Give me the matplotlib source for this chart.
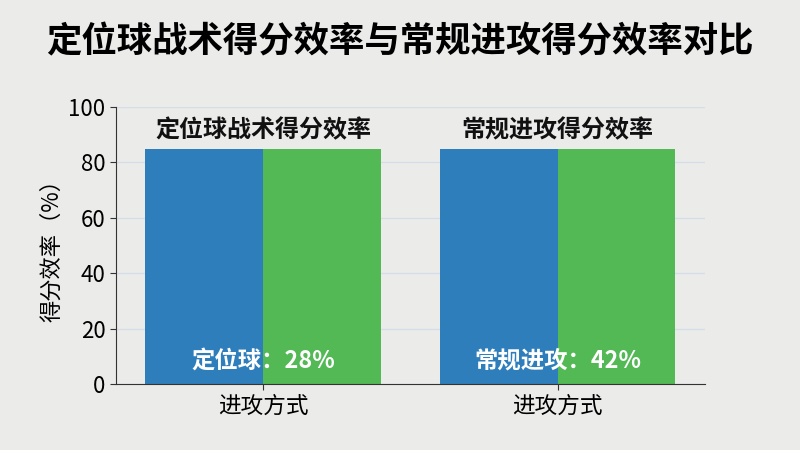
import matplotlib
matplotlib.use('Agg')
import matplotlib.pyplot as plt
import numpy as np

plt.rcParams['font.family'] = ['Noto Sans CJK SC', 'DejaVu Sans']

# data
groups = ['定位球战术得分效率', '常规进攻得分效率']
tick_labels = ['进攻方式', '进攻方式']
blue_values = [85, 85]
green_values = [85, 85]
inner_labels = ['定位球：28%', '常规进攻：42%']

bg = '#ebebea'
fig, ax = plt.subplots(figsize=(8, 4.5), dpi=100)
fig.patch.set_facecolor(bg)
ax.set_facecolor(bg)
fig.subplots_adjust(left=0.145, right=0.881, bottom=0.147, top=0.762)

x = np.arange(len(groups))
w = 0.4
ax.bar(x - w / 2, blue_values, w, color='#2f7ebc', zorder=2)
ax.bar(x + w / 2, green_values, w, color='#52b955', zorder=2)

for i in range(len(groups)):
    top = max(blue_values[i], green_values[i])
    ax.text(x[i], top + 2.3, groups[i], ha='center', va='bottom',
            fontsize=17.3, fontweight='bold', color='#111111')
    ax.text(x[i], 8.5, inner_labels[i], ha='center', va='center',
            fontsize=16.8, fontweight='bold', color='white', zorder=3)

ax.set_xlim(-0.5, 1.5)
ax.set_ylim(0, 100)
ax.set_yticks([0, 20, 40, 60, 80, 100])
ax.set_xticks(x)
ax.set_xticklabels(tick_labels, fontsize=16.3)
ax.tick_params(axis='y', labelsize=16, length=4, color='#333333')
ax.tick_params(axis='x', length=4, color='#333333')
ax.set_ylabel('得分效率（%）', fontsize=16, labelpad=4)

ax.grid(axis='y', color='#d5dde6', linewidth=1, zorder=0)
for s in ['top', 'right']:
    ax.spines[s].set_visible(False)
ax.spines['left'].set_color('#333333')
ax.spines['bottom'].set_color('#333333')

fig.suptitle('定位球战术得分效率与常规进攻得分效率对比', fontsize=25.5,
             fontweight='bold', y=0.945)

fig.savefig('out.png', dpi=100, facecolor=bg)
